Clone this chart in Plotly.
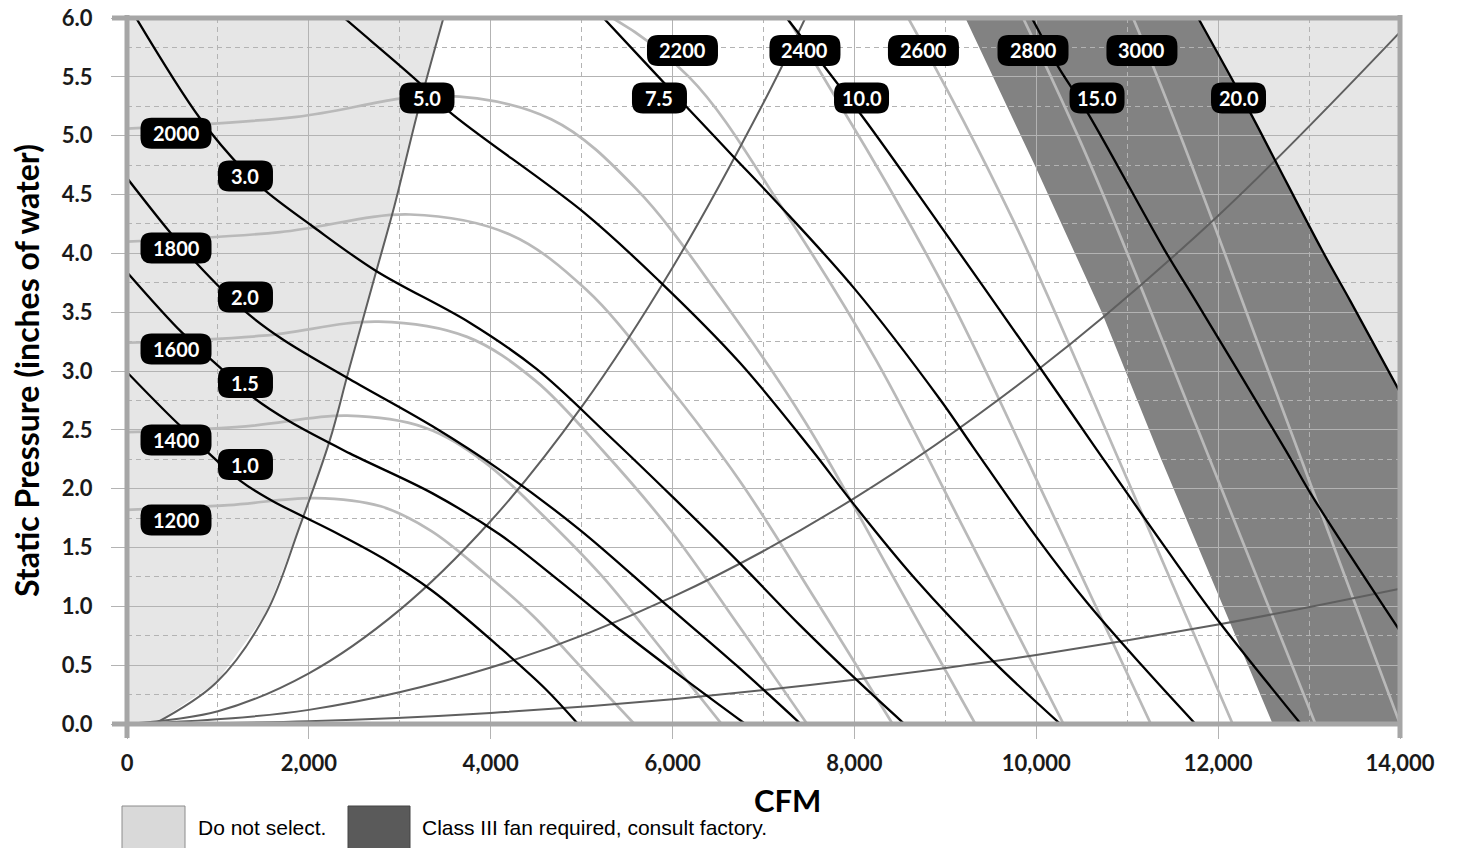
import plotly.graph_objects as go

# ---------------- data ----------------
# Fan speed (RPM) curves: CFM and static pressure
rpm_names = ["1200", "1400", "1600", "1800", "2000", "2200", "2400", "2600", "2800", "3000"]
cfm_1200 = [0, 1116, 2065, 2790, 3348, 3906, 4464, 5022, 5580]
sp_1200 = [1.82, 1.86, 1.92, 1.85, 1.64, 1.30, 0.92, 0.46, 0]
cfm_1400 = [0, 1308, 2420, 3270, 3924, 4578, 5232, 5886, 6540]
sp_1400 = [2.48, 2.53, 2.62, 2.52, 2.23, 1.77, 1.25, 0.63, 0]
cfm_1600 = [0, 1496, 2768, 3740, 4488, 5236, 5984, 6732, 7480]
sp_1600 = [3.24, 3.30, 3.42, 3.29, 2.92, 2.32, 1.64, 0.83, 0]
cfm_1800 = [0, 1684, 3115, 4210, 5052, 5894, 6736, 7578, 8420]
sp_1800 = [4.10, 4.18, 4.33, 4.16, 3.69, 2.93, 2.07, 1.05, 0]
cfm_2000 = [0, 1866, 3452, 4665, 5598, 6531, 7464, 8397, 9330]
sp_2000 = [5.06, 5.16, 5.34, 5.14, 4.55, 3.62, 2.56, 1.29, 0]
cfm_2200 = [0, 2060, 3811, 5150, 6180, 7210, 8240, 9270, 10300]
sp_2200 = [6.12, 6.24, 6.42, 6.08, 5.50, 4.38, 3.09, 1.56, 0]
cfm_2400 = [0, 2252, 4166, 5630, 6756, 7882, 9008, 10134, 11260]
sp_2400 = [7.28, 7.43, 7.68, 7.39, 6.55, 5.21, 3.68, 1.86, 0]
cfm_2600 = [0, 2432, 4499, 6080, 7296, 8512, 9728, 10944, 12160]
sp_2600 = [8.54, 8.71, 9.01, 8.67, 7.69, 6.11, 4.31, 2.18, 0]
cfm_2800 = [0, 2614, 4836, 6535, 7842, 9149, 10456, 11763, 13070]
sp_2800 = [9.91, 10.11, 10.46, 10.06, 8.92, 7.09, 5.00, 2.53, 0]
cfm_3000 = [0, 2800, 5180, 7000, 8400, 9800, 11200, 12600, 14000]
sp_3000 = [11.38, 11.61, 12.01, 11.55, 10.24, 8.14, 5.75, 2.90, 0]

# Brake horsepower curves
hp_names = ["1.0", "1.5", "2.0", "3.0", "5.0", "7.5", "10.0", "15.0", "20.0"]
cfm_hp_1_0 = [0, 550, 1240, 1590, 2260, 2810, 3360, 4100, 4600, 4960]
sp_hp_1_0 = [2.99, 2.56, 2.07, 1.90, 1.64, 1.41, 1.13, 0.65, 0.30, 0]
cfm_hp_1_5 = [0, 600, 1050, 1380, 1790, 2450, 3360, 4100, 4700, 5340, 6100, 6800]
sp_hp_1_5 = [3.84, 3.33, 3.01, 2.78, 2.57, 2.30, 1.96, 1.61, 1.25, 0.85, 0.40, 0]
cfm_hp_2_0 = [0, 450, 760, 1310, 1710, 2450, 3360, 4100, 4980, 5890, 6700, 7410]
sp_hp_2_0 = [4.64, 4.20, 3.92, 3.50, 3.27, 2.93, 2.53, 2.16, 1.65, 1.04, 0.50, 0]
cfm_hp_3_0 = [0, 800, 1290, 1540, 2040, 2740, 3770, 4500, 5300, 6000, 6760, 7400, 8030, 8550]
sp_hp_3_0 = [6.13, 5.15, 4.70, 4.52, 4.23, 3.85, 3.41, 3.02, 2.45, 1.93, 1.35, 0.84, 0.37, 0]
cfm_hp_5_0 = [2100, 2390, 3200, 3550, 5020, 5860, 6740, 7530, 7970, 8650, 9530, 10265]
sp_hp_5_0 = [6.2, 6.0, 5.46, 5.20, 4.35, 3.76, 3.07, 2.33, 1.89, 1.25, 0.53, 0]
cfm_hp_7_5 = [5000, 5240, 6160, 6660, 7150, 8000, 8940, 9300, 10010, 10560, 11170, 11750]
sp_hp_7_5 = [6.2, 6.0, 5.24, 4.83, 4.43, 3.70, 2.76, 2.36, 1.58, 1.03, 0.49, 0]
cfm_hp_10_0 = [7000, 7255, 8100, 8940, 10040, 10640, 11400, 12000, 12910]
sp_hp_10_0 = [6.25, 6.0, 5.15, 4.24, 3.03, 2.36, 1.52, 0.88, 0]
cfm_hp_15_0 = [9700, 9950, 10230, 10560, 11410, 11750, 12740, 13040, 14000]
sp_hp_15_0 = [6.33, 6.0, 5.6, 5.2, 4.03, 3.6, 2.33, 1.93, 0.79]
cfm_hp_20_0 = [11600, 11780, 12350, 12620, 13140, 13450, 14000]
sp_hp_20_0 = [6.25, 6.0, 5.2, 4.80, 4.03, 3.6, 2.82]

# System curves
cfm_sys_a = [0, 2000, 4000, 6000, 8000, 10000, 12000, 14000]
sp_sys_a = [0, 0.023, 0.094, 0.211, 0.376, 0.587, 0.845, 1.15]
cfm_sys_b = [0, 2000, 4000, 6000, 8000, 10000, 12000, 14000]
sp_sys_b = [0, 0.12, 0.48, 1.08, 1.92, 3.0, 4.32, 5.88]
cfm_sys_c = [0, 1000, 2000, 3000, 4000, 5000, 6000, 7000, 7460]
sp_sys_c = [0, 0.108, 0.431, 0.970, 1.725, 2.695, 3.88, 5.28, 6.0]
cfm_sys_d = [300, 980, 1530, 1900, 2230, 2430, 2735, 2940, 3200, 3480]
sp_sys_d = [0, 0.35, 0.94, 1.68, 2.41, 2.98, 3.83, 4.40, 5.21, 6.0]

# Class III region left edge
cfm_class3_edge = [9220, 10000, 10720, 11330, 12600]
sp_class3_edge = [6.0, 4.72, 3.5, 2.33, 0]

# Axis ticks
x_ticks = [0, 2000, 4000, 6000, 8000, 10000, 12000, 14000]
x_tick_text = ["0", "2,000", "4,000", "6,000", "8,000", "10,000", "12,000", "14,000"]
y_ticks = [0, 0.5, 1, 1.5, 2, 2.5, 3, 3.5, 4, 4.5, 5, 5.5, 6]
y_tick_text = ["0.0", "0.5", "1.0", "1.5", "2.0", "2.5", "3.0", "3.5", "4.0", "4.5", "5.0", "5.5", "6.0"]

# ---------------- label placement (data coordinates) ----------------
rpm_label_pos = {
    "1200": (539, 1.734), "1400": (539, 2.414), "1600": (539, 3.187),
    "1800": (539, 4.045), "2000": (539, 5.02), "2200": (6109, 5.724),
    "2400": (7456, 5.724), "2600": (8759, 5.724), "2800": (9964, 5.724),
    "3000": (11162, 5.724),
}
hp_label_pos = {
    "1.0": (1303, 2.205), "1.5": (1303, 2.902), "2.0": (1303, 3.629),
    "3.0": (1303, 4.657), "5.0": (3299, 5.32), "7.5": (5856, 5.32),
    "10.0": (8078, 5.32), "15.0": (10668, 5.32), "20.0": (12224, 5.32),
}

# ---------------- styles ----------------
W, H = 1461, 848
ML, MR, MT, MB = 127, 61, 18, 124
PW, PH = W - ML - MR, H - MT - MB
GRID = "#b3b3b3"
FRAME = "#a6a6a6"
LIGHT = "#e6e6e6"
DARK = "#828282"
RPM_COLOR = "#b9b9b9"
SYS_COLOR = "#5f5f5f"

fig = go.Figure()

rpm_series = [(cfm_1200, sp_1200), (cfm_1400, sp_1400), (cfm_1600, sp_1600), (cfm_1800, sp_1800),
              (cfm_2000, sp_2000), (cfm_2200, sp_2200), (cfm_2400, sp_2400), (cfm_2600, sp_2600),
              (cfm_2800, sp_2800), (cfm_3000, sp_3000)]
hp_series = [(cfm_hp_1_0, sp_hp_1_0), (cfm_hp_1_5, sp_hp_1_5), (cfm_hp_2_0, sp_hp_2_0),
             (cfm_hp_3_0, sp_hp_3_0), (cfm_hp_5_0, sp_hp_5_0), (cfm_hp_7_5, sp_hp_7_5),
             (cfm_hp_10_0, sp_hp_10_0), (cfm_hp_15_0, sp_hp_15_0), (cfm_hp_20_0, sp_hp_20_0)]
sys_series = [(cfm_sys_a, sp_sys_a), (cfm_sys_b, sp_sys_b), (cfm_sys_c, sp_sys_c), (cfm_sys_d, sp_sys_d)]

for name, (xs, ys) in zip(rpm_names, rpm_series):
    fig.add_trace(go.Scatter(x=xs, y=ys, mode="lines", name=name + " RPM",
                             line=dict(color=RPM_COLOR, width=2.7, shape="spline", smoothing=1.0),
                             hoverinfo="skip"))
for xs, ys in sys_series:
    fig.add_trace(go.Scatter(x=xs, y=ys, mode="lines",
                             line=dict(color=SYS_COLOR, width=2, shape="spline", smoothing=1.0),
                             hoverinfo="skip"))
for name, (xs, ys) in zip(hp_names, hp_series):
    fig.add_trace(go.Scatter(x=xs, y=ys, mode="lines", name=name + " HP",
                             line=dict(color="black", width=2.3, shape="spline", smoothing=1.0),
                             hoverinfo="skip"))


def path_from(points):
    return "M " + " L ".join(f"{x},{y}" for x, y in points) + " Z"


shapes = []
# "Do not select" region on the left
left_pts = [(0, 0)] + list(zip(cfm_sys_d, sp_sys_d)) + [(0, 6)]
shapes.append(dict(type="path", path=path_from(left_pts), xref="x", yref="y",
                   fillcolor=LIGHT, line=dict(width=0), layer="below"))
# "Do not select" region upper right (above the 20 hp curve)
hp20 = [(x, y) for x, y in zip(cfm_hp_20_0, sp_hp_20_0) if y <= 6.0]
right_pts = hp20 + [(14000, 6)]
shapes.append(dict(type="path", path=path_from(right_pts), xref="x", yref="y",
                   fillcolor=LIGHT, line=dict(width=0), layer="below"))
# Class III region
dark_pts = list(zip(cfm_class3_edge, sp_class3_edge)) + [(14000, 0)] + hp20[::-1]
shapes.append(dict(type="path", path=path_from(dark_pts), xref="x", yref="y",
                   fillcolor=DARK, line=dict(width=0), layer="below"))

# frame with extended corners
px_x = 15 / PW
px_y = 14 / PH
shapes += [
    dict(type="line", xref="paper", yref="paper", x0=0, x1=0, y0=-px_y, y1=1 + 3 / PH,
         line=dict(color=FRAME, width=5), layer="above"),
    dict(type="line", xref="paper", yref="paper", x0=1, x1=1, y0=-px_y, y1=1 + 3 / PH,
         line=dict(color=FRAME, width=5), layer="above"),
    dict(type="line", xref="paper", yref="paper", x0=-px_x, x1=1 + 2 / PW, y0=0, y1=0,
         line=dict(color=FRAME, width=5), layer="above"),
    dict(type="line", xref="paper", yref="paper", x0=-px_x, x1=1 + 2 / PW, y0=1, y1=1,
         line=dict(color=FRAME, width=5), layer="above"),
]


def rounded_box(w, h, r):
    a, b = w / 2, h / 2
    return (f"M {-a + r},{-b} L {a - r},{-b} Q {a},{-b} {a},{-b + r} L {a},{b - r} "
            f"Q {a},{b} {a - r},{b} L {-a + r},{b} Q {-a},{b} {-a},{b - r} "
            f"L {-a},{-b + r} Q {-a},{-b} {-a + r},{-b} Z")


annotations = []
labels = list(rpm_label_pos.items()) + list(hp_label_pos.items())
for text, (lx, ly) in labels:
    w = 71 if len(text) == 4 and "." not in text else 55
    shapes.append(dict(type="path", xref="x", yref="y", xsizemode="pixel", ysizemode="pixel",
                       xanchor=lx, yanchor=ly, path=rounded_box(w, 31, 11),
                       fillcolor="black", line=dict(width=0), layer="above"))
    annotations.append(dict(x=lx, y=ly, xref="x", yref="y", text=f"<b>{text}</b>", showarrow=False,
                            font=dict(family="Lato", size=20, color="white"),
                            xanchor="center", yanchor="middle"))


def px2paper_x(px):
    return (px - ML) / PW


def px2paper_y(py):
    return (H - MB - py) / PH


# legend swatches
shapes.append(dict(type="rect", xref="paper", yref="paper",
                   x0=px2paper_x(122), x1=px2paper_x(185), y0=px2paper_y(806), y1=px2paper_y(852),
                   fillcolor="#d9d9d9", line=dict(color="#8c8c8c", width=1), layer="above"))
shapes.append(dict(type="rect", xref="paper", yref="paper",
                   x0=px2paper_x(348), x1=px2paper_x(410), y0=px2paper_y(806), y1=px2paper_y(852),
                   fillcolor="#5a5a5a", line=dict(color="#444444", width=1), layer="above"))
annotations.append(dict(x=px2paper_x(196), y=px2paper_y(827), xref="paper", yref="paper",
                        text="Do not select.", showarrow=False, xanchor="left", yanchor="middle",
                        font=dict(family="Liberation Sans", size=21, color="black")))
annotations.append(dict(x=px2paper_x(420), y=px2paper_y(827), xref="paper", yref="paper",
                        text="Class III fan required, consult factory.", showarrow=False,
                        xanchor="left", yanchor="middle",
                        font=dict(family="Liberation Sans", size=21, color="black")))
annotations.append(dict(x=px2paper_x(787), y=px2paper_y(800), xref="paper", yref="paper",
                        text="<b>CFM</b>", showarrow=False, xanchor="center", yanchor="middle",
                        font=dict(family="Lato", size=31, color="black")))
annotations.append(dict(x=px2paper_x(26), y=0.5, xref="paper", yref="paper",
                        text="<b>Static Pressure (inches of water)</b>", showarrow=False,
                        textangle=-90, xanchor="center", yanchor="middle",
                        font=dict(family="Lato", size=32, color="black")))

fig.update_layout(
    width=W, height=H,
    margin=dict(l=ML, r=MR, t=MT, b=MB, pad=0, autoexpand=False),
    paper_bgcolor="white", plot_bgcolor="white",
    showlegend=False,
    shapes=shapes, annotations=annotations,
    xaxis=dict(range=[0, 14000], tickvals=x_ticks, ticktext=x_tick_text, automargin=False,
               showgrid=True, gridcolor=GRID, gridwidth=1, zeroline=False, showline=False,
               ticks="outside", ticklen=14, tickcolor=GRID, tickwidth=1,
               ticklabelstandoff=6,
               tickfont=dict(family="Lato", size=22, color="#1a1a1a", weight="bold"),
               minor=dict(dtick=1000, showgrid=True, gridcolor=GRID, gridwidth=1, griddash="5px,4px"),
               fixedrange=True),
    yaxis=dict(range=[0, 6], tickvals=y_ticks, ticktext=y_tick_text, automargin=False,
               showgrid=True, gridcolor=GRID, gridwidth=1, zeroline=False, showline=False,
               ticks="outside", ticklen=15, tickcolor=GRID, tickwidth=1,
               ticklabelstandoff=14,
               tickfont=dict(family="Lato", size=22, color="#1a1a1a", weight="bold"),
               minor=dict(dtick=0.25, showgrid=True, gridcolor=GRID, gridwidth=1, griddash="5px,4px"),
               fixedrange=True),
)

fig.write_html("out.html", config={"displayModeBar": False},
               post_script="document.body.style.margin='0';document.body.style.overflow='hidden';")
